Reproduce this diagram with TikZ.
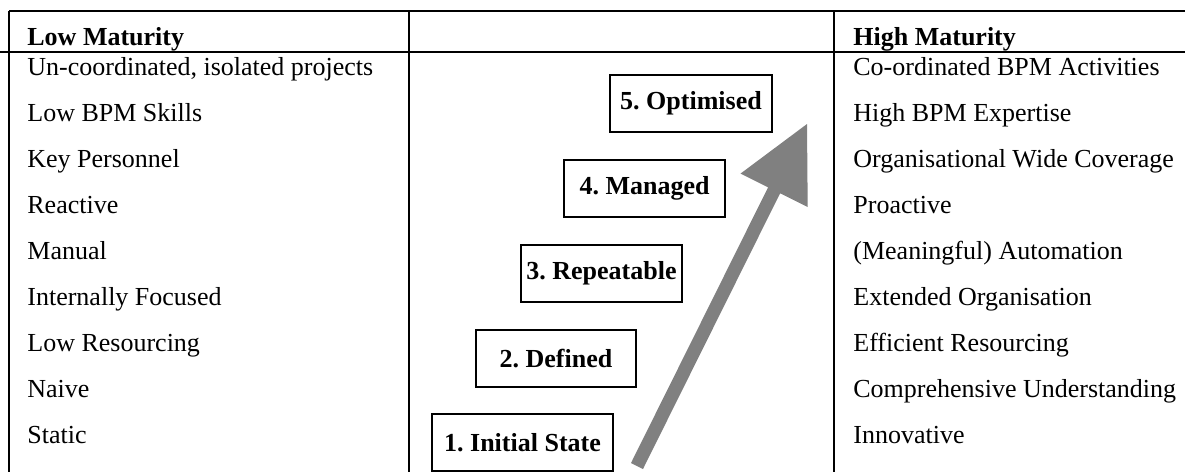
\documentclass[tikz,border=0pt]{standalone}
\usepackage{fontspec}
\setmainfont{Liberation Serif}
\definecolor{arrowgray}{RGB}{128,128,128}
\begin{document}
\frenchspacing
\begin{tikzpicture}[x=0.5pt,y=-0.5pt,
  rule/.style={line width=1pt, black},
  celltext/.style={anchor=base west, inner sep=0pt, font=\fontsize{13}{15}\selectfont\frenchspacing},
  headtext/.style={anchor=base west, inner sep=0pt, font=\fontsize{13}{15}\selectfont\bfseries\frenchspacing},
  stagebox/.style={draw, line width=1pt, inner sep=0pt, minimum height=28.5pt, font=\fontsize{13}{15}\selectfont\bfseries\frenchspacing},
  bigarrow/.style={fill=arrowgray, draw=none}]
\useasboundingbox (0,0) rectangle (1185,472);
% table rules
\draw[rule] (9,11) -- (1185,11);
\draw[rule] (0,52) -- (1185,52);
\draw[rule] (9,11) -- (9,472);
\draw[rule] (409,11) -- (409,472);
\draw[rule] (834,11) -- (834,472);
% headers
\node[headtext] (lowh) at (27,45) {Low Maturity};
\node[headtext] (highh) at (853,45) {High Maturity};
% left column
\node[celltext] (l1) at (27,75) {Un-coordinated, isolated projects};
\node[celltext] (l2) at (27,121) {Low BPM Skills};
\node[celltext] (l3) at (27,167) {Key Personnel};
\node[celltext] (l4) at (27,213) {Reactive};
\node[celltext] (l5) at (27,259) {Manual};
\node[celltext] (l6) at (27,305) {Internally Focused};
\node[celltext] (l7) at (27,351) {Low Resourcing};
\node[celltext] (l8) at (27,397) {Naive};
\node[celltext] (l9) at (27,443) {Static};
% right column
\node[celltext] (r1) at (853,75) {Co-ordinated BPM Activities};
\node[celltext] (r2) at (853,121) {High BPM Expertise};
\node[celltext] (r3) at (853,167) {Organisational Wide Coverage};
\node[celltext] (r4) at (853,213) {Proactive};
\node[celltext] (r5) at (853,259) {(Meaningful) Automation};
\node[celltext] (r6) at (853,305) {Extended Organisation};
\node[celltext] (r7) at (853,351) {Efficient Resourcing};
\node[celltext] (r8) at (853,397) {Comprehensive Understanding};
\node[celltext] (r9) at (853,443) {Innovative};
% stage boxes
\node[stagebox, minimum width=90.5pt] (s1) at (522.5,442.5) {1. Initial State};
\node[stagebox, minimum width=80pt] (s2) at (556,358.5) {2. Defined};
\node[stagebox, minimum width=80.5pt] (s3) at (601.5,273.5) {3. Repeatable};
\node[stagebox, minimum width=80.5pt] (s4) at (644.5,188) {4. Managed};
\node[stagebox, minimum width=81pt] (s5) at (691,103.5) {5. Optimised};
% arrow
\fill[bigarrow] (631,463) -- (768.1,187.3) -- (740.5,173.6) -- (807,124)
  -- (807.7,207.0) -- (780.1,193.3) -- (643,469) -- cycle;
\end{tikzpicture}
\end{document}
